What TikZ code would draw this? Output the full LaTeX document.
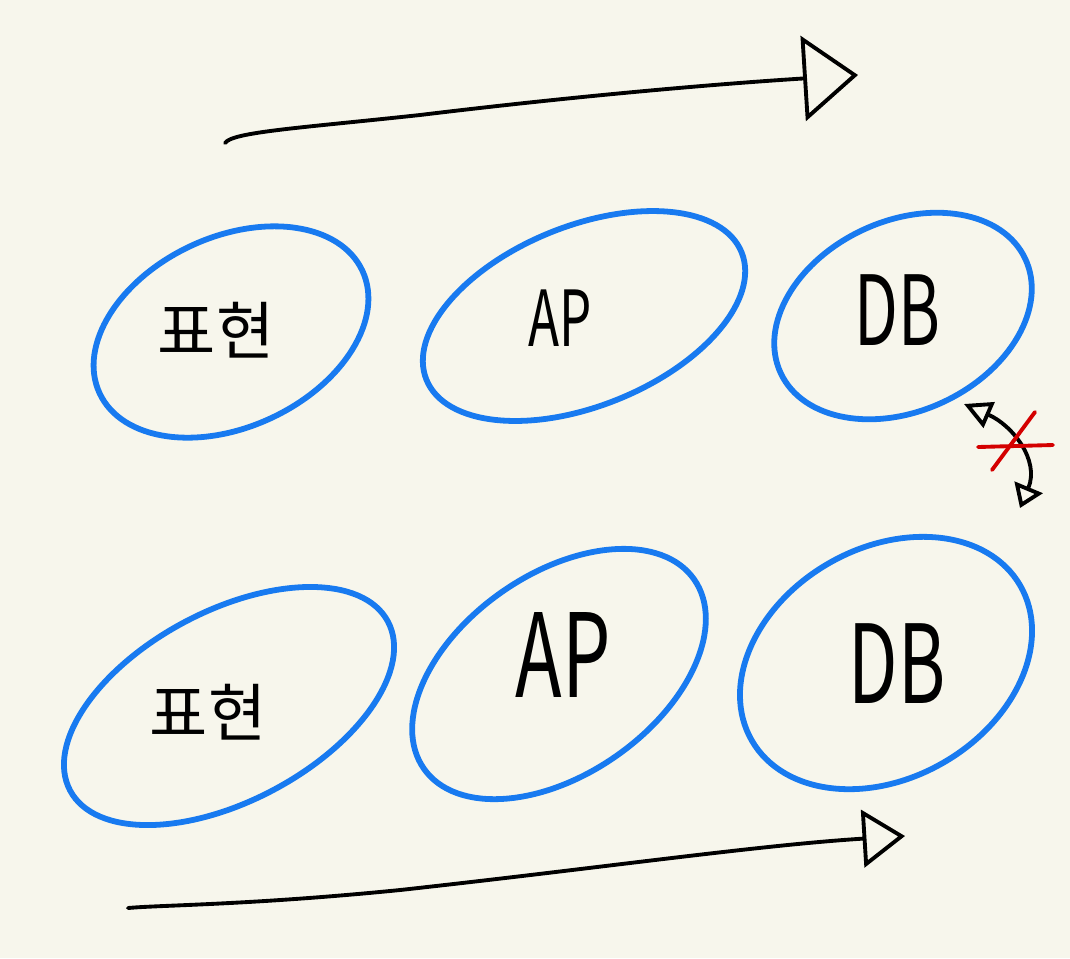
\documentclass[tikz,border=0pt]{standalone}
\usepackage{fontspec}
\newfontfamily\kofont{Noto Sans CJK KR}
\newfontfamily\latfont[FakeStretch=0.66]{Noto Sans CJK KR}
\usetikzlibrary{arrows.meta, positioning, shapes.geometric}
\definecolor{paper}{RGB}{247,246,236}
\definecolor{penblue}{RGB}{24,122,240}
\definecolor{penred}{RGB}{212,0,0}

\begin{document}
\begin{tikzpicture}[
    x=0.02cm, y=-0.02cm,
    blob/.style={draw=penblue, line width=3.3pt, ellipse, inner sep=0pt},
    word/.style={inner sep=0pt, font=\kofont\fontsize{36}{36}\selectfont},
    latin/.style={inner sep=0pt, font=\latfont\fontsize{#1}{#1}\selectfont},
    pen/.style={line width=2.2pt, line cap=round, line join=round},
    arrow/.style={pen, -{Triangle[open, length=1.1cm, width=1.7cm]}},
    arrowlow/.style={pen, -{Triangle[open, length=0.85cm, width=1.15cm]}},
    twoway/.style={pen, {Triangle[open, length=0.55cm, width=0.55cm]}-{Triangle[open, length=0.45cm, width=0.6cm]}},
    cross/.style={draw=penred, line width=2.2pt, line cap=round}
]
\fill[paper] (0,0) rectangle (1070,958);

% top row
\node[blob, rotate=25, minimum width=5.8cm, minimum height=3.8cm] (repTop) at (231,332) {};
\node[blob, rotate=22, minimum width=6.8cm, minimum height=3.6cm] (apTop) at (584,316) {};
\node[blob, rotate=25, minimum width=5.4cm, minimum height=3.8cm] (dbTop) at (903,316) {};
\node[word] (repTopText) at (216,330) {표현};
\node[latin=44] (apTopText) at (560,318) {AP};
\node[latin=55] (dbTopText) at (897,310) {DB};

% bottom row
\node[blob, rotate=28, minimum width=7.2cm, minimum height=3.8cm] (repLow) at (229,706) {};
\node[blob, rotate=35, minimum width=6.6cm, minimum height=4.0cm] (apLow) at (559,674) {};
\node[blob, rotate=30, minimum width=6.2cm, minimum height=4.6cm] (dbLow) at (886,663) {};
\node[word] (repLowText) at (208,712) {표현};
\node[latin=66] (apLowText) at (563,655) {AP};
\node[latin=62] (dbLowText) at (897,664) {DB};

% flow arrows
\coordinate (topStart) at (225,143);
\coordinate (topEnd) at (858,75);
\coordinate (lowStart) at (128,908);
\coordinate (lowEnd) at (905,836);
\draw[arrow] (topStart) .. controls (232,132) and (300,128) .. (420,115)
    .. controls (560,98) and (700,85) .. (topEnd);
\draw[arrowlow] (lowStart) .. controls (160,905) and (250,905) .. (400,890)
    .. controls (600,868) and (760,845) .. (lowEnd);

% blocked link between the two DB
\coordinate (linkTop) at (964,404);
\coordinate (linkLow) at (1020,508);
\draw[twoway] (linkTop) .. controls (1012,425) and (1040,460) .. (linkLow);
\draw[cross] (978,447) -- (1053,445);
\draw[cross] (992,470) -- (1035,412);
\end{tikzpicture}
\end{document}
